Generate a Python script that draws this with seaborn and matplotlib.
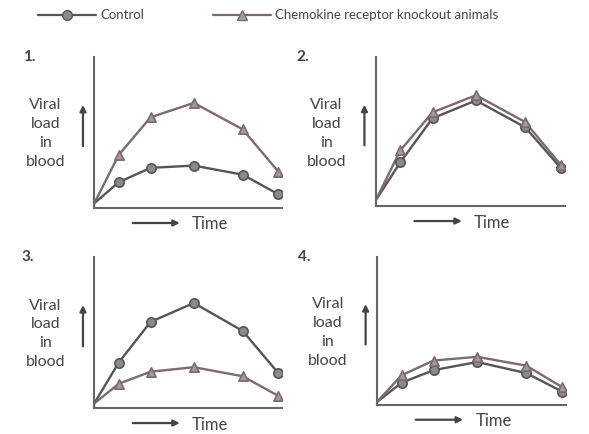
import numpy as np
import pandas as pd
import seaborn as sns
import matplotlib.pyplot as plt
from matplotlib.lines import Line2D

sns.set_style('white')
plt.rcParams['font.family'] = ['Lato', 'DejaVu Sans']

# time points (origin first), shared by all four panels
time = [0, 1.3, 3.0, 5.3, 7.9, 9.8]

# viral load (arbitrary units, 0-10 axis)
control_1 = [0.3, 1.7, 2.65, 2.8, 2.2, 0.9]
knockout_1 = [0.3, 3.5, 6.0, 6.95, 5.2, 2.4]
control_2 = [0.4, 2.95, 5.9, 7.1, 5.3, 2.55]
knockout_2 = [0.4, 3.75, 6.3, 7.45, 5.65, 2.75]
control_3 = [0.3, 3.0, 5.7, 6.95, 5.1, 2.3]
knockout_3 = [0.3, 1.6, 2.4, 2.7, 2.1, 0.8]
control_4 = [0.2, 1.5, 2.35, 2.9, 2.15, 0.9]
knockout_4 = [0.2, 2.0, 3.0, 3.25, 2.65, 1.2]

panel_labels = ['1.', '2.', '3.', '4.']
groups = ['Control', 'Chemokine receptor knockout animals']
line_colors = {'Control': '#555555', 'Chemokine receptor knockout animals': '#7d6970'}

panels = [(control_1, knockout_1), (control_2, knockout_2),
          (control_3, knockout_3), (control_4, knockout_4)]

# axes boxes in figure fraction (left, bottom, width, height)
boxes = [[0.160, 0.521, 0.319, 0.348],
         [0.638, 0.525, 0.321, 0.343],
         [0.160, 0.060, 0.319, 0.348],
         [0.640, 0.067, 0.321, 0.341]]
# x offset of panel number (axes fraction)
label_x = [-0.38, -0.42, -0.39, -0.42]

fig = plt.figure(figsize=(5.89, 4.34), dpi=100)

for i, (ctrl, ko) in enumerate(panels):
    ax = fig.add_axes(boxes[i])
    df = pd.DataFrame({
        'Time': time + time,
        'Load': ctrl + ko,
        'group': [groups[0]] * len(time) + [groups[1]] * len(time),
    })
    for g, mk, fc in [(groups[0], 'o', '#8a8a8a'), (groups[1], '^', '#a09a9c')]:
        sub = df[df['group'] == g]
        sns.lineplot(data=sub, x='Time', y='Load', ax=ax, color=line_colors[g],
                     linewidth=1.7, legend=False)
        sns.scatterplot(data=sub.iloc[1:], x='Time', y='Load', ax=ax, marker=mk,
                        s=45, color=fc, edgecolor=line_colors[g], linewidth=1.2,
                        legend=False, zorder=3)
    ax.set_xlim(0, 10)
    ax.set_ylim(0, 10)
    ax.set_xticks([])
    ax.set_yticks([])
    ax.set_xlabel('')
    ax.set_ylabel('')
    sns.despine(ax=ax)
    for s in ['left', 'bottom']:
        ax.spines[s].set_color('#666666')
        ax.spines[s].set_linewidth(1.5)

    # panel number
    ax.text(label_x[i], 1.0, panel_labels[i], transform=ax.transAxes, fontsize=11,
            fontweight='bold', color='#444444', ha='left', va='center')
    # y label with upward arrow
    ax.text(-0.26, 0.49, 'Viral\nload\nin\nblood', transform=ax.transAxes,
            fontsize=11.5, color='#444444', ha='center', va='center', linespacing=1.45)
    ax.annotate('', xy=(-0.06, 0.70), xytext=(-0.06, 0.39), xycoords='axes fraction',
                arrowprops=dict(arrowstyle='-|>', color='#444444', lw=1.6,
                                mutation_scale=9), annotation_clip=False)
    # x label with rightward arrow
    ax.annotate('', xy=(0.47, -0.10), xytext=(0.19, -0.10), xycoords='axes fraction',
                arrowprops=dict(arrowstyle='-|>', color='#444444', lw=1.6,
                                mutation_scale=9), annotation_clip=False)
    ax.text(0.52, -0.11, 'Time', transform=ax.transAxes, fontsize=12,
            color='#444444', ha='left', va='center')

handles = [
    Line2D([], [], color=line_colors[groups[0]], lw=1.6, marker='o', markersize=7,
           markerfacecolor='#8a8a8a', markeredgecolor='#555555'),
    Line2D([], [], color=line_colors[groups[1]], lw=1.6, marker='^', markersize=7,
           markerfacecolor='#a09a9c', markeredgecolor='#7d6970'),
]
fig.legend(handles, groups, loc='center left', bbox_to_anchor=(0.045, 0.965), ncol=2,
           frameon=False, fontsize=9.5, handlelength=4.4, columnspacing=5.2,
           handletextpad=0.3, labelcolor='#444444')

fig.savefig('out.png', dpi=100, facecolor='white')
